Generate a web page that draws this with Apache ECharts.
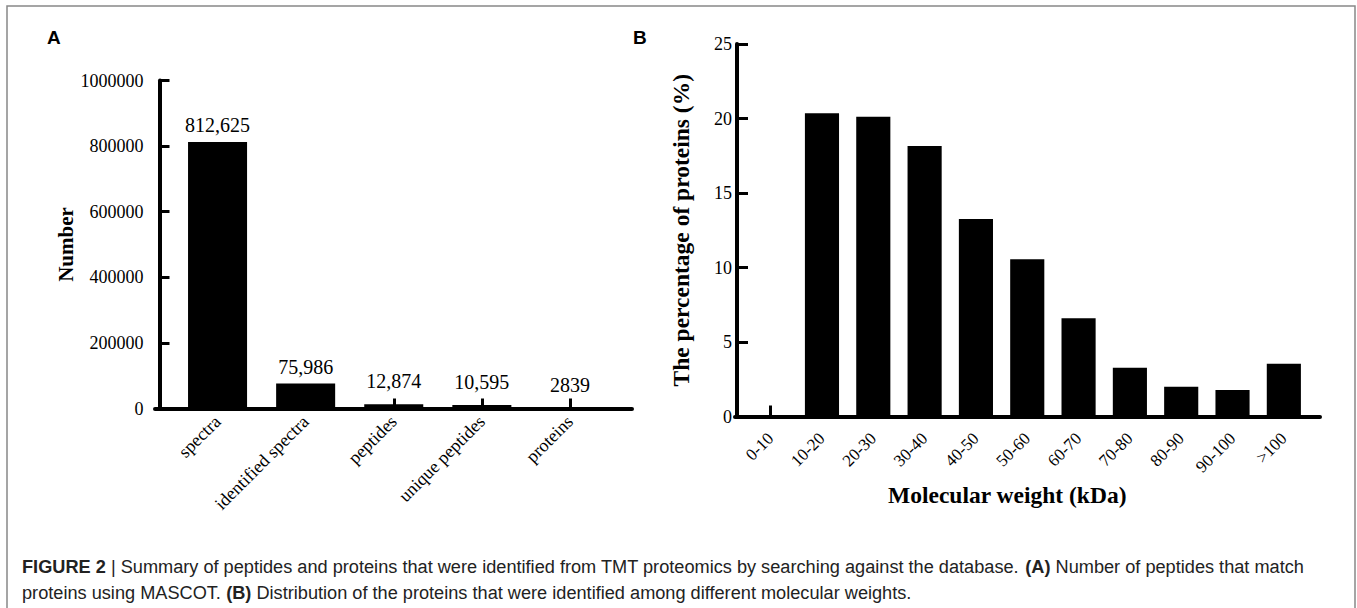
<!DOCTYPE html>
<html>
<head>
<meta charset="utf-8">
<script src="https://cdn.jsdelivr.net/npm/echarts@6/dist/echarts.min.js"></script>
<style>
html,body{margin:0;padding:0;background:#fff;}
#chart{width:1357px;height:608px;}
</style>
</head>
<body>
<div id="chart"></div>
<script>
// ---- Data (Panel A) ----
const catsA = ['spectra', 'identified spectra', 'peptides', 'unique peptides', 'proteins'];
const valsA = [812625, 75986, 12874, 10595, 2839];
const labelsA = ['812,625', '75,986', '12,874', '10,595', '2839'];
const yTicksA = [0, 200000, 400000, 600000, 800000, 1000000];

// ---- Data (Panel B) ----
const catsB = ['0-10', '10-20', '20-30', '30-40', '40-50', '50-60', '60-70', '70-80', '80-90', '90-100', '>100'];
const valsB = [0.1, 20.35, 20.12, 18.15, 13.25, 10.55, 6.59, 3.28, 2.0, 1.78, 3.54];
const yTicksB = [0, 5, 10, 15, 20, 25];

const captionLine1 = ['FIGURE 2', ' | Summary of peptides and proteins that were identified from TMT proteomics by searching against the database. ', '(A)', ' Number of peptides that match'];
const captionLine2 = ['proteins using MASCOT. ', '(B)', ' Distribution of the proteins that were identified among different molecular weights.'];

const SERIF = '"Liberation Serif", "Times New Roman", serif';
const SANS = '"Liberation Sans", Arial, sans-serif';

const chart = echarts.init(document.getElementById('chart'), null, {renderer: 'svg'});

function lineAxisX(gridIndex) {
  return {
    type: 'value', gridIndex: gridIndex, min: 0, max: 1,
    axisLine: {show: true, onZero: false, lineStyle: {color: '#000', width: 4}},
    axisTick: {show: false}, axisLabel: {show: false}, splitLine: {show: false}
  };
}
function hiddenY(gridIndex) {
  return {type: 'value', gridIndex: gridIndex, show: false, min: 0, max: 1};
}

const option = {
  backgroundColor: '#fff',
  animation: false,
  grid: [
    {left: 173.5, top: 80.5, width: 440.5, height: 328, containLabel: false},
    {left: 155, top: 80.5, width: 477, height: 328, containLabel: false},
    {left: 745, top: 44, width: 564.5, height: 372.5, containLabel: false},
    {left: 735, top: 44, width: 585, height: 372.5, containLabel: false}
  ],
  xAxis: [
    {
      type: 'category', gridIndex: 0, data: catsA,
      axisLine: {show: false},
      axisTick: {show: true, inside: true, alignWithLabel: true, length: 10, lineStyle: {color: '#000', width: 3}},
      axisLabel: {interval: 0, rotate: 45, margin: 10, color: '#000', fontFamily: SERIF, fontSize: 18}
    },
    lineAxisX(1),
    {
      type: 'category', gridIndex: 2, data: catsB,
      name: 'Molecular weight (kDa)', nameLocation: 'middle', nameGap: 66,
      nameTextStyle: {color: '#000', fontFamily: SERIF, fontWeight: 'bold', fontSize: 23.5, padding: [0, 40, 0, 0]},
      axisLine: {show: false},
      axisTick: {show: true, inside: true, alignWithLabel: true, length: 11, lineStyle: {color: '#000', width: 3}},
      axisLabel: {interval: 0, rotate: 45, margin: 19, color: '#000', fontFamily: SERIF, fontSize: 17}
    },
    lineAxisX(3)
  ],
  yAxis: [
    {
      type: 'value', gridIndex: 0,
      min: yTicksA[0], max: yTicksA[yTicksA.length - 1], interval: yTicksA[1] - yTicksA[0],
      offset: 14,
      name: 'Number', nameLocation: 'middle', nameGap: 83,
      nameTextStyle: {color: '#000', fontFamily: SERIF, fontWeight: 'bold', fontSize: 21},
      axisLine: {show: true, lineStyle: {color: '#000', width: 4}},
      axisTick: {show: true, inside: true, length: 10, lineStyle: {color: '#000', width: 3}},
      axisLabel: {margin: 16, color: '#000', fontFamily: SERIF, fontSize: 18, formatter: v => String(v)},
      splitLine: {show: false}
    },
    hiddenY(1),
    {
      type: 'value', gridIndex: 2,
      min: yTicksB[0], max: yTicksB[yTicksB.length - 1], interval: yTicksB[1] - yTicksB[0],
      offset: 8,
      name: 'The percentage of proteins (%)', nameLocation: 'middle', nameGap: 44,
      nameTextStyle: {color: '#000', fontFamily: SERIF, fontWeight: 'bold', fontSize: 23.5},
      axisLine: {show: true, lineStyle: {color: '#000', width: 4}},
      axisTick: {show: true, inside: true, length: 11, lineStyle: {color: '#000', width: 3}},
      axisLabel: {margin: 5, color: '#000', fontFamily: SERIF, fontSize: 18, formatter: v => String(v)},
      splitLine: {show: false}
    },
    hiddenY(3)
  ],
  series: [
    {
      type: 'bar', xAxisIndex: 0, yAxisIndex: 0,
      barCategoryGap: '33%',
      itemStyle: {color: '#000'},
      data: valsA.map((v, i) => ({
        value: v,
        label: {distance: v < 50000 ? 13 : 7}
      })),
      label: {
        show: true, position: 'top', color: '#000', fontFamily: SERIF, fontSize: 20,
        formatter: p => labelsA[p.dataIndex]
      }
    },
    {
      type: 'bar', xAxisIndex: 2, yAxisIndex: 2,
      barCategoryGap: '33.5%',
      itemStyle: {color: '#000'},
      data: valsB
    }
  ],
  graphic: [
    {type: 'rect', silent: true, z: -10,
     shape: {x: 7, y: 6, width: 1348, height: 612},
     style: {fill: 'none', stroke: '#888', lineWidth: 1.5}},
    {type: 'text', left: 47, top: 28, style: {text: 'A', font: 'bold 19px ' + SANS, fill: '#000'}},
    {type: 'text', left: 633, top: 28, style: {text: 'B', font: 'bold 19px ' + SANS, fill: '#000'}},
    {type: 'text', x: 22, y: 557, scaleX: 0.957,
     style: {
       text: '{b|' + captionLine1[0] + '}' + captionLine1[1] + '{b|' + captionLine1[2] + '}' + captionLine1[3],
       font: '19px ' + SANS, fill: '#222',
       rich: {b: {font: 'bold 19px ' + SANS, fill: '#222'}}
     }},
    {type: 'text', x: 22, y: 583, scaleX: 0.957,
     style: {
       text: captionLine2[0] + '{b|' + captionLine2[1] + '}' + captionLine2[2],
       font: '19px ' + SANS, fill: '#222',
       rich: {b: {font: 'bold 19px ' + SANS, fill: '#222'}}
     }}
  ]
};
chart.setOption(option);
</script>
</body>
</html>
